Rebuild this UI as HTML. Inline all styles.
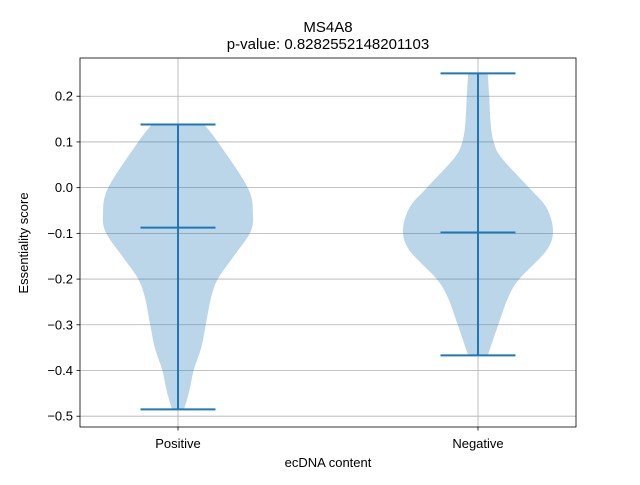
<!DOCTYPE html>
<html><head><meta charset="utf-8"><style>
body{margin:0;background:#fff}
svg text{font-family:"Liberation Sans","DejaVu Sans",sans-serif;fill:#000}
</style></head><body>
<svg id="chart" width="640" height="480" viewBox="0 0 640 480" xmlns="http://www.w3.org/2000/svg">
<rect x="0" y="0" width="640" height="480" fill="#fff"/>
<g id="grid"></g>
<g id="violins"></g>
<g id="axes"></g>
<text x="328" y="32" text-anchor="middle" font-size="15">MS4A8</text>
<text x="328" y="49" text-anchor="middle" font-size="15">p-value: 0.8282552148201103</text>
<text x="328" y="467" text-anchor="middle" font-size="13">ecDNA content</text>
<text x="28" y="243" text-anchor="middle" font-size="13" transform="rotate(-90 28 243)">Essentiality score</text>
</svg>
<script>
const categories = ["Positive", "Negative"];
const yTicks = [0.2, 0.1, 0.0, -0.1, -0.2, -0.3, -0.4, -0.5];
const yTickLabels = ["0.2", "0.1", "0.0", "−0.1", "−0.2", "−0.3", "−0.4", "−0.5"];
const posMax = 0.138, posMin = -0.485, posMedian = -0.0875;
const negMax = 0.250, negMin = -0.367, negMedian = -0.098;
const posDensityY = [0.138, 0.100, 0.0, -0.058, -0.099, -0.153, -0.200, -0.241, -0.300, -0.350, -0.399, -0.445, -0.485];
const posDensityW = [0.35, 0.53, 0.93, 1.0, 0.96, 0.73, 0.53, 0.44, 0.37, 0.31, 0.21, 0.15, 0.08];
const negDensityY = [0.250, 0.200, 0.138, 0.100, 0.066, 0.0, -0.043, -0.094, -0.138, -0.200, -0.241, -0.300, -0.367];
const negDensityW = [0.13, 0.15, 0.17, 0.21, 0.31, 0.68, 0.91, 1.0, 0.91, 0.55, 0.40, 0.27, 0.13];

const L=80,R=576,T=58,B=427;
const xMin=0.6733, xMax=2.3267, yMin=-0.5236, yMax=0.2836;
const sx=v=>L+(v-xMin)/(xMax-xMin)*(R-L);
const sy=v=>T+(yMax-v)/(yMax-yMin)*(B-T);
const NS="http://www.w3.org/2000/svg";
function mk(tag,attrs,parent){const e=document.createElementNS(NS,tag);for(const k in attrs)e.setAttribute(k,attrs[k]);parent.appendChild(e);return e;}
const grid=document.getElementById('grid'),vg=document.getElementById('violins'),ax=document.getElementById('axes');

yTicks.forEach((t,i)=>{
  const y=sy(t);
  const g=mk('line',{x1:L,x2:R,y1:y,y2:y,stroke:'#b0b0b0','stroke-width':0.8},grid);
  
  
  const tk=mk('line',{x1:L-3.5,x2:L,y1:y,y2:y,stroke:'#000','stroke-width':0.8},ax);
  
  
  const tx=mk('text',{x:L-7,y:y+4.5,'text-anchor':'end','font-size':13},ax);
  tx.textContent=yTickLabels[i];
  
  
});
categories.forEach((c,i)=>{
  const x=sx(i+1);
  const g=mk('line',{x1:x,x2:x,y1:T,y2:B,stroke:'#b0b0b0','stroke-width':0.8},grid);
  
  
  const tk=mk('line',{x1:x,x2:x,y1:B,y2:B+3.5,stroke:'#000','stroke-width':0.8},ax);
  
  
  const tx=mk('text',{x:x,y:B+21,'text-anchor':'middle','font-size':13},ax);
  tx.textContent=c;
  
  
});
const frame=mk('rect',{x:L,y:T,width:R-L,height:B-T,fill:'none',stroke:'#000','stroke-width':0.8},ax);



function smooth(pts){
  let d=`M${pts[0][0]},${pts[0][1]}`;
  for(let i=0;i<pts.length-1;i++){
    const p0=pts[Math.max(0,i-1)],p1=pts[i],p2=pts[i+1],p3=pts[Math.min(pts.length-1,i+2)];
    const c1=[p1[0]+(p2[0]-p0[0])/6,p1[1]+(p2[1]-p0[1])/6];
    const c2=[p2[0]-(p3[0]-p1[0])/6,p2[1]-(p3[1]-p1[1])/6];
    d+=` C${c1[0]},${c1[1]} ${c2[0]},${c2[1]} ${p2[0]},${p2[1]}`;
  }
  return d;
}
function violin(pos,ys,ws,mx,mn,med,name){
  const halfMax=0.25;
  const right=ys.map((v,i)=>[sx(pos+ws[i]*halfMax),sy(v)]);
  const left=ys.map((v,i)=>[sx(pos-ws[i]*halfMax),sy(v)]).reverse();
  let d=smooth(right)+' L'+left[0][0]+','+left[0][1]+smooth(left).replace(/^M[^C]*/,' ')+' Z';
  const b=mk('path',{d:d,fill:'#1f77b4','fill-opacity':0.3,stroke:'none'},vg);
  
  
  const cx=sx(pos),cw=sx(pos+0.125)-cx;
  const st={stroke:'#1f77b4','stroke-width':2};
  const v=mk('line',Object.assign({x1:cx,x2:cx,y1:sy(mx),y2:sy(mn)},st),vg);
  
  
  [[mx,'max-cap'],[mn,'min-cap'],[med,'median-line']].forEach(([val,n])=>{
    const l=mk('line',Object.assign({x1:cx-cw,x2:cx+cw,y1:sy(val),y2:sy(val)},st),vg);
    
    
  });
}
violin(1,posDensityY,posDensityW,posMax,posMin,posMedian,'positive');
violin(2,negDensityY,negDensityW,negMax,negMin,negMedian,'negative');
</script>
</body></html>
